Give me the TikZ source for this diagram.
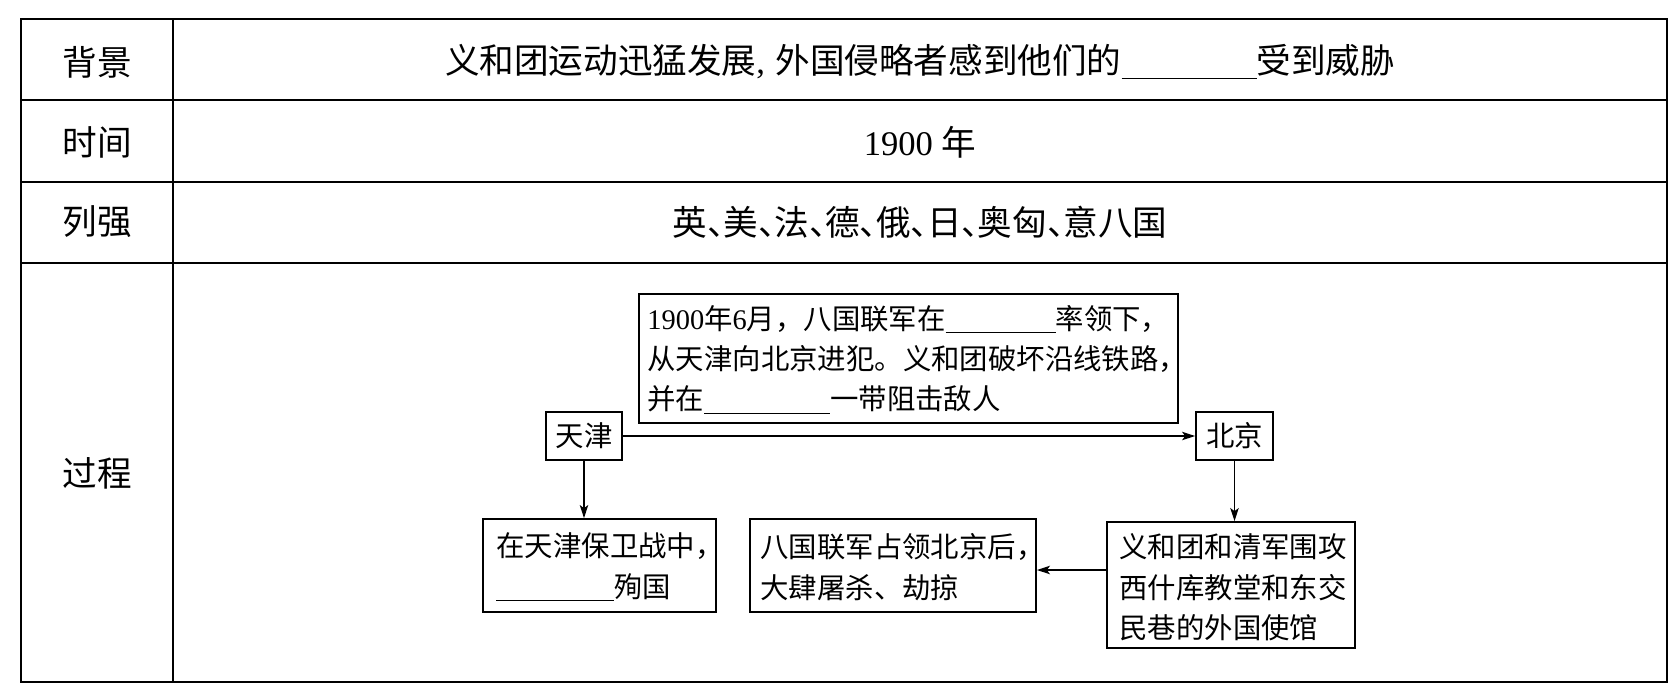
\documentclass[tikz,border=0pt]{standalone}
\usepackage{fontspec}
\setmainfont{Liberation Serif}
\newfontfamily\cjk{Noto Sans CJK SC}
\usetikzlibrary{arrows.meta}
\newcommand\lat[1]{{\rmfamily #1}}
\newcommand\dun{\makebox[0.47em][l]{、}}
\newcommand\blank[1]{\rule[-0.14em]{#1}{0.5pt}}
\begin{document}
\begin{tikzpicture}[x=0.5pt,y=-0.5pt,
  tablefont/.style={font=\cjk\fontsize{17.3pt}{20pt}\selectfont, inner sep=0pt},
  diafont/.style={font=\cjk\fontsize{14.2pt}{20.2pt}\selectfont, inner sep=0pt, align=left, anchor=west},
  frame/.style={draw, line width=0.9pt, rectangle, inner sep=0pt},
  conn/.style={-{Stealth[length=6.5pt,width=4.2pt,inset=1.5pt]}, line width=0.7pt},
  rule/.style={line width=0.8pt}
  ]
\useasboundingbox (0,0) rectangle (1673,692);
% table
\draw[line width=1.1pt] (21,19) rectangle (1667,682);
\draw[rule] (173,19) -- (173,682);
\draw[rule] (21,100) -- (1667,100);
\draw[rule] (21,182) -- (1667,182);
\draw[rule] (21,263) -- (1667,263);
% left column labels
\node[tablefont] (bg) at (97,62) {背景};
\node[tablefont] (sj) at (97,142) {时间};
\node[tablefont] (lq) at (97,222) {列强};
\node[tablefont] (gc) at (97,473) {过程};
% right column texts
\node[tablefont] (bgt) at (920,62) {义和团运动迅猛发展\lat{,}\hspace{0.3em}外国侵略者感到他们的\blank{67.5pt}受到威胁};
\node[tablefont] (sjt) at (920,142) {\lat{1900 }年};
\node[tablefont] (lqt) at (920,222) {英\dun 美\dun 法\dun 德\dun 俄\dun 日\dun 奥匈\dun 意八国};
% diagram boxes
\node[frame, minimum width=269.5pt, minimum height=64.5pt] (top) at (908.5,358.5) {};
\node[diafont] (topt) at (647,359.5) {\lat{1900}年\lat{6}月，八国联军在\blank{55pt}率领下，\\从天津向北京进犯。义和团破坏沿线铁路，\\并在\blank{63pt}一带阻击敌人};
\node[frame, minimum width=38pt, minimum height=24pt, font=\cjk\fontsize{14.2pt}{20.2pt}\selectfont] (tj) at (584,436) {天津};
\node[frame, minimum width=38.5pt, minimum height=24pt, font=\cjk\fontsize{14.2pt}{20.2pt}\selectfont] (bj) at (1234.5,436) {北京};
\node[frame, minimum width=116.5pt, minimum height=46.5pt] (b1) at (599.5,565.5) {};
\node[diafont] (b1t) at (496,567) {在天津保卫战中，\\\blank{59pt}殉国};
\node[frame, minimum width=143pt, minimum height=46.5pt] (b2) at (893,565.5) {};
\node[diafont] (b2t) at (760,567) {八国联军占领北京后，\\大肆屠杀、劫掠};
\node[frame, minimum width=124pt, minimum height=63pt] (b3) at (1231,585) {};
\node[diafont] (b3t) at (1119,587.5) {义和团和清军围攻\\西什库教堂和东交\\民巷的外国使馆};
% connectors
\draw[conn] (tj) -- (bj);
\draw[conn] (tj.south) -- (tj.south |- b1.north);
\draw[conn] (bj.south) -- (bj.south |- b3.north);
\coordinate (m) at ([yshift=-2.25pt]b2.east);
\draw[conn] (m -| b3.west) -- (m);
\end{tikzpicture}
\end{document}
